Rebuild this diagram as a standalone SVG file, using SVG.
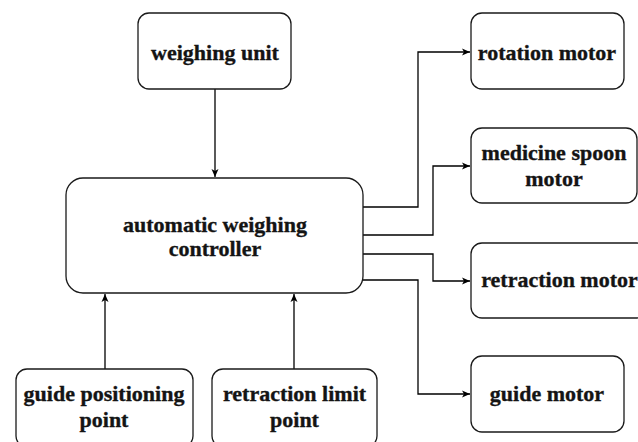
<svg xmlns="http://www.w3.org/2000/svg" width="638" height="442" viewBox="0 0 638 442">
  <style>
    .box { fill: #ffffff; stroke: #1a1a1a; stroke-width: 1.3; }
    .lbl { font-family: "Liberation Serif", "Times New Roman", serif; font-weight: bold; font-size: 22px; fill: #141414; stroke: #141414; stroke-width: 0.35; text-anchor: middle; }
    .wire { fill: none; stroke: #000000; stroke-width: 1.3; }
  </style>
  <defs>
    <marker id="arrow" markerWidth="10" markerHeight="10" refX="9" refY="5" orient="auto" markerUnits="userSpaceOnUse">
      <path d="M1,1.5 L9,5 L1,8.5 L3,5 Z" fill="#000000"/>
    </marker>
  </defs>
  <rect width="638" height="442" fill="#ffffff"/>

  <g id="connectors">
    <path class="wire" d="M215,89 V177" marker-end="url(#arrow)"/>
    <path class="wire" d="M363,207 H418 V52 H470" marker-end="url(#arrow)"/>
    <path class="wire" d="M363,235 H433 V166 H470" marker-end="url(#arrow)"/>
    <path class="wire" d="M363,254 H433 V281 H470" marker-end="url(#arrow)"/>
    <path class="wire" d="M363,280 H418 V394 H470" marker-end="url(#arrow)"/>
    <path class="wire" d="M105,369 V294" marker-end="url(#arrow)"/>
    <path class="wire" d="M294,369 V294" marker-end="url(#arrow)"/>
  </g>

  <g id="weighing-unit">
    <rect class="box" x="138" y="13" width="153" height="76" rx="11"/>
    <text class="lbl" x="215" y="60">weighing unit</text>
  </g>

  <g id="controller">
    <rect class="box" x="66" y="178" width="297" height="115" rx="17"/>
    <text class="lbl" x="215" y="232">automatic weighing</text>
    <text class="lbl" x="215" y="256">controller</text>
  </g>

  <g id="rotation-motor">
    <rect class="box" x="471" y="13" width="153" height="76" rx="11"/>
    <text class="lbl" x="547" y="60">rotation motor</text>
  </g>

  <g id="spoon-motor">
    <rect class="box" x="471" y="128" width="166" height="75" rx="11"/>
    <text class="lbl" x="554" y="160">medicine spoon</text>
    <text class="lbl" x="554" y="186">motor</text>
  </g>

  <g id="retraction-motor">
    <rect class="box" x="471" y="243" width="177" height="75" rx="11"/>
    <text class="lbl" x="559.5" y="287">retraction motor</text>
  </g>

  <g id="guide-motor">
    <rect class="box" x="471" y="356" width="153" height="76" rx="11"/>
    <text class="lbl" x="547" y="401">guide motor</text>
  </g>

  <g id="guide-positioning-point">
    <rect class="box" x="16" y="369" width="177" height="78" rx="11"/>
    <text class="lbl" x="104" y="401">guide positioning</text>
    <text class="lbl" x="104" y="427">point</text>
  </g>

  <g id="retraction-limit-point">
    <rect class="box" x="212" y="369" width="165" height="78" rx="11"/>
    <text class="lbl" x="294.5" y="401">retraction limit</text>
    <text class="lbl" x="294.5" y="427">point</text>
  </g>
</svg>
